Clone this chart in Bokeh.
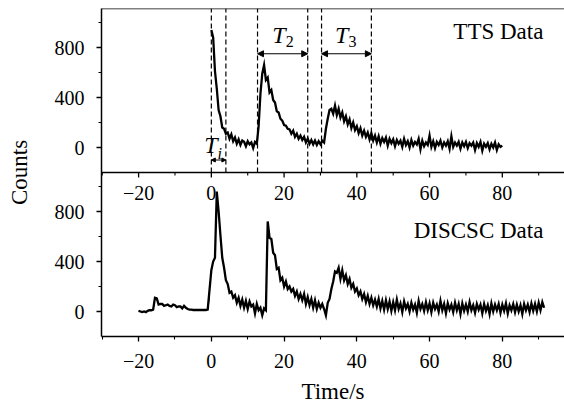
import numpy as np
from bokeh.plotting import figure
from bokeh.models import Range1d, FixedTicker, Span, Arrow, NormalHead
from bokeh.core.properties import value
from bokeh.embed import file_html
from bokeh.resources import INLINE

# ---------------- data ----------------
TTS_T0 = 0.0      # first sample time of TTS series (s)
DISC_T0 = -20.0   # first sample time of DISCSC series (s)
DT = 0.5          # sampling step (s)

tts_counts = [
    940, 880, 610, 470, 300, 250, 160, 150, 110, 120,
    70, 105, 50, 80, 30, 65, 20, 55, 45, 10,
    50, 25, 40, -5, 45, 30, 170, 430, 590, 660,
    540, 560, 440, 460, 380, 360, 290, 280, 230, 215,
    180, 175, 150, 145, 110, 135, 85, 110, 70, 95,
    60, 85, 40, 70, 30, 60, 25, 55, 20, 50,
    25, 55, 40, 150, 230, 300, 310, 270, 335, 260,
    310, 240, 280, 210, 250, 185, 225, 155, 200, 140,
    170, 115, 155, 95, 135, 85, 120, 65, 115, 55,
    95, 40, 90, 30, 75, 45, 80, 15, 70, 35,
    65, 10, 60, 30, 55, 5, 70, 20, 50, 0,
    60, 15, 45, 25, 70, -15, 55, 10, 40, 20,
    95, 5, 50, -5, 45, 20, 55, 0, 40, 15,
    50, -10, 90, 5, 40, 15, 45, -10, 40, 10,
    45, -5, 35, 15, 40, -20, 35, 5, 45, -25,
    30, 5, 35, -15, 30, 0, 40, -20, 25, 5,
    15,
]

disc_counts = [
    5, 0, -5, 0, -5, 5, 10, 10, 15, 110,
    105, 55, 60, 60, 45, 50, 55, 45, 40, 55,
    50, 35, 40, 40, 25, 45, 30, 20, 15, 15,
    12, 12, 12, 12, 12, 12, 12, 12, 15, 120,
    330, 400, 430, 960, 800, 610, 430, 350, 250, 220,
    150, 160, 110, 130, 70, 110, 45, 95, 30, 85,
    20, 80, 40, 55, -15, 60, 10, 30, -30, 25,
    10, 720, 590, 580, 470, 450, 340, 350, 250, 270,
    200, 240, 180, 200, 160, 180, 125, 160, 100, 140,
    90, 140, 60, 115, 50, 100, 30, 90, 20, 70,
    30, 60, 20, -30, 70, 100, 180, 240, 320, 310,
    350, 260, 330, 250, 290, 220, 260, 190, 220, 160,
    185, 130, 160, 100, 140, 75, 125, 60, 110, 50,
    95, 40, 100, 25, 85, 15, 90, 20, 80, 5,
    75, 10, 95, 20, 65, -5, 80, 25, 60, 0,
    70, 15, 55, -10, 85, 20, 60, 5, 75, 10,
    65, -5, 70, 20, 55, 0, 85, 10, 60, -15,
    65, 15, 55, -5, 70, 10, 60, -20, 65, 5,
    55, 0, 75, 10, 50, -10, 60, 15, 55, -15,
    60, 5, 50, -20, 65, 0, 55, 10, 60, -10,
    55, 5, 65, -15, 50, 10, 60, -5, 55, 0,
    50, -20, 60, 10, 55, -5, 65, 5, 60, 0,
    70, 10, 75, 30,
]

x_ticks = [-20, 0, 20, 40, 60, 80]
x_minor = [-30, -10, 10, 30, 50, 70, 90]
x_labels = ["\u221220", "0", "20", "40", "60", "80"]
y_ticks = [0, 400, 800]
y_minor = [200, 600, 1000]
y_labels = ["0", "400", "800"]

interval_edges = [0, 4, 12.7, 26.5, 30.3, 44]        # dashed lines (s)
interval_subs = ["i", "2", "3"]
interval_T_y = [18, 898, 898]          # centre of the "T"
interval_sub_y = [-46, 850, 850]       # centre of the subscript
interval_arrow_y = [-100, 750, 750]

panel_titles = ["TTS Data", "DISCSC Data"]
panel_title_y = [930, 650]             # centre of the title text

# ---------------- layout constants ----------------
Y_MIN = -200
PANEL = 1312           # counts spanned by one panel
OFF = PANEL            # top panel is shifted by one panel height
X_MIN, X_MAX = -30.2, 97.1
FONT = "Liberation Serif"
PX = 8                 # counts per pixel

tts_t = TTS_T0 + DT * np.arange(len(tts_counts))
disc_t = DISC_T0 + DT * np.arange(len(disc_counts))
disc_c = np.array(disc_counts, dtype=float)

p = figure(width=564, height=412, output_backend="svg", toolbar_location=None,
           x_range=Range1d(X_MIN, X_MAX), y_range=Range1d(Y_MIN, Y_MIN + 2 * PANEL),
           min_border_left=101, min_border_right=0, min_border_top=8, min_border_bottom=76)
p.outline_line_color = None
p.xgrid.visible = False
p.ygrid.visible = False
p.background_fill_color = "white"

# data
p.line(tts_t, np.array(tts_counts) + OFF, line_color="black", line_width=2.3,
       line_join="miter")
quiet = disc_t <= -0.5          # thin quiet pre-burst stretch
p.line(disc_t[quiet], disc_c[quiet], line_color="black", line_width=1.0)
p.line(disc_t[~quiet | np.roll(quiet, -1)], disc_c[~quiet | np.roll(quiet, -1)],
       line_color="black", line_width=2.3, line_join="miter")

# axes
xa = p.xaxis[0]
xa.ticker = FixedTicker(ticks=x_ticks, minor_ticks=x_minor)
xa.major_label_overrides = {t: l for t, l in zip(x_ticks, x_labels)}
xa.axis_label = "Time/s"
ya = p.yaxis[0]
all_y = y_ticks + [t + OFF for t in y_ticks]
ya.ticker = FixedTicker(ticks=all_y,
                        minor_ticks=y_minor + [t + OFF for t in y_minor])
ya.major_label_overrides = {t: l for t, l in zip(all_y, y_labels + y_labels)}
ya.axis_label = "Counts"
for ax in (xa, ya):
    ax.axis_line_color = "black"
    ax.axis_line_width = 1.5
    ax.major_tick_line_width = 1.3
    ax.minor_tick_line_width = 1.1
    ax.major_tick_out = 5
    ax.major_tick_in = 0
    ax.minor_tick_out = 3
    ax.minor_tick_in = 0
    ax.major_label_text_font = FONT
    ax.major_label_text_font_size = "20px"
    ax.major_label_text_color = "black"
    ax.axis_label_text_font = FONT
    ax.axis_label_text_font_size = "23px"
    ax.axis_label_text_font_style = "normal"
    ax.axis_label_text_color = "black"
xa.major_label_standoff = 12
xa.axis_label_standoff = 8
ya.major_label_standoff = 12
ya.axis_label_standoff = 20

# top edge and middle divider
p.add_layout(Span(location=Y_MIN + 2 * PANEL, dimension="width", line_color="black", line_width=1.5))
mid = Y_MIN + PANEL
p.add_layout(Span(location=mid, dimension="width", line_color="black", line_width=1.5))

# ticks and labels of the top panel's time axis (on the divider)
p.segment(x0=x_ticks, y0=[mid] * len(x_ticks), x1=x_ticks, y1=[mid - 5 * PX] * len(x_ticks),
          line_color="black", line_width=1.3)
p.segment(x0=x_minor, y0=[mid] * len(x_minor), x1=x_minor, y1=[mid - 3 * PX] * len(x_minor),
          line_color="black", line_width=1.1)
p.text(x=x_ticks, y=[mid - 20 * PX] * len(x_ticks), text=x_labels,
       text_font=value(FONT), text_font_size="20px", text_align="center",
       text_baseline="middle", text_color="black")

# dashed interval markers in the top panel
p.segment(x0=interval_edges, y0=[Y_MIN + OFF] * len(interval_edges),
          x1=interval_edges, y1=[Y_MIN + 2 * PANEL] * len(interval_edges),
          line_color="black", line_width=1.2, line_dash="5 3")

mids = []
for k, sub in enumerate(interval_subs):
    a, b = interval_edges[2 * k], interval_edges[2 * k + 1]
    ya_ = interval_arrow_y[k] + OFF
    hs = 4 if k == 0 else 6
    p.add_layout(Arrow(start=NormalHead(size=hs, fill_color="black", line_color="black", line_width=1),
                       end=NormalHead(size=hs, fill_color="black", line_color="black", line_width=1),
                       x_start=a, y_start=ya_, x_end=b, y_end=ya_,
                       line_color="black", line_width=1))
    mids.append((a + b) / 2)

x_off = [-1, 3, 2]
for k, sub in enumerate(interval_subs):
    p.text(x=[mids[k]], y=[interval_T_y[k] + OFF], text=["T"], x_offset=x_off[k],
           text_font=value(FONT), text_font_size="24px", text_font_style="italic",
           text_align="right", text_baseline="middle", text_color="black")
    p.text(x=[mids[k]], y=[interval_sub_y[k] + OFF], text=[sub], x_offset=x_off[k],
           text_font=value(FONT), text_font_size="16px",
           text_font_style="italic" if sub == "i" else "normal",
           text_align="left", text_baseline="middle", text_color="black")

# panel titles
p.text(x=[91.3, 91.3], y=[panel_title_y[0] + OFF, panel_title_y[1]], text=panel_titles,
       text_font=value(FONT), text_font_size="23px", text_align="right",
       text_baseline="middle", text_color="black")

open("out.html", "w").write(file_html(p, INLINE))
